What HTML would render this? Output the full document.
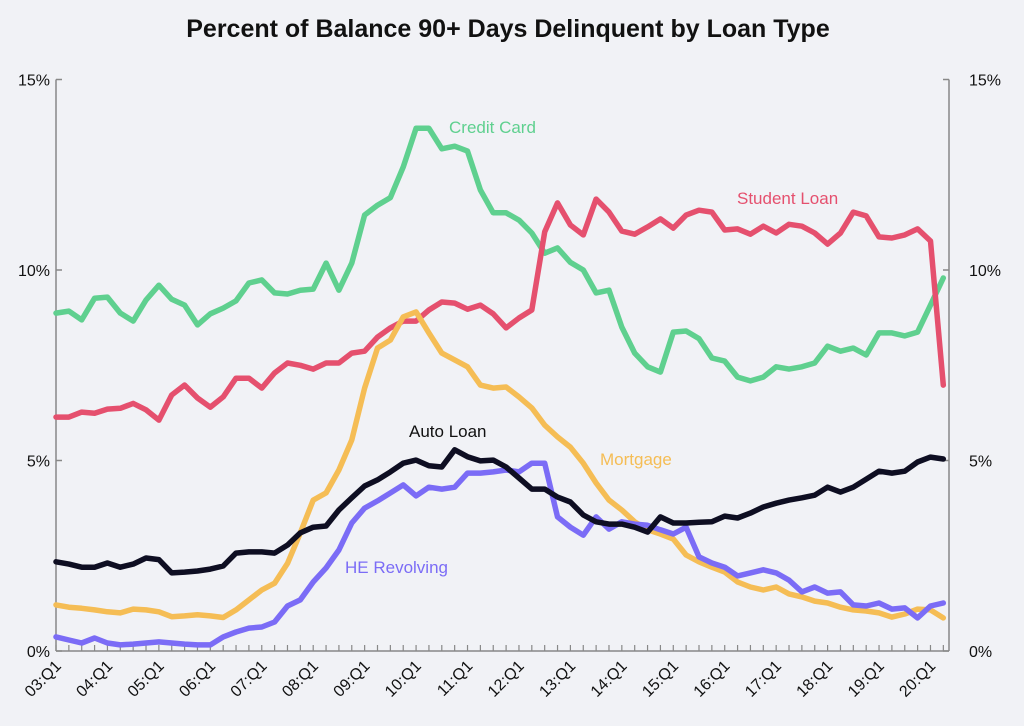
<!DOCTYPE html>
<html><head><meta charset="utf-8">
<style>
html,body{margin:0;padding:0;background:#f1f2f6;}
svg{display:block;font-family:"Liberation Sans",sans-serif;}
</style></head>
<body>
<svg id="chart" width="1024" height="726" viewBox="0 0 1024 726">
<rect x="0" y="0" width="1024" height="726" fill="#f1f2f6"/>
<text x="508" y="37" text-anchor="middle" font-size="25" font-weight="bold" fill="#111">Percent of Balance 90+ Days Delinquent by Loan Type</text>
<g id="axes"></g>
<g id="series"></g>
<g id="labels"></g>
</svg>
<script>
const yTicks = [0, 5, 10, 15];
const yTickLabels = ["0%", "5%", "10%", "15%"];
const xLabels = ["03:Q1","04:Q1","05:Q1","06:Q1","07:Q1","08:Q1","09:Q1","10:Q1","11:Q1","12:Q1","13:Q1","14:Q1","15:Q1","16:Q1","17:Q1","18:Q1","19:Q1","20:Q1"];
const creditCard = [8.87,8.92,8.69,9.26,9.29,8.87,8.66,9.21,9.6,9.23,9.08,8.56,8.85,9.0,9.19,9.66,9.74,9.4,9.37,9.47,9.5,10.18,9.47,10.18,11.44,11.7,11.9,12.7,13.72,13.72,13.18,13.25,13.12,12.1,11.5,11.5,11.31,10.97,10.44,10.58,10.2,10.0,9.4,9.47,8.5,7.82,7.46,7.32,8.37,8.4,8.2,7.69,7.61,7.19,7.09,7.19,7.46,7.4,7.46,7.56,8.0,7.87,7.95,7.77,8.35,8.35,8.27,8.37,9.08,9.79];
const studentLoan = [6.14,6.14,6.27,6.24,6.35,6.37,6.5,6.33,6.06,6.72,6.98,6.64,6.4,6.67,7.16,7.16,6.9,7.3,7.56,7.5,7.4,7.56,7.56,7.82,7.87,8.24,8.48,8.66,8.66,8.95,9.16,9.13,8.97,9.08,8.85,8.48,8.74,8.95,11.0,11.76,11.18,10.92,11.86,11.52,11.02,10.94,11.13,11.34,11.1,11.44,11.57,11.52,11.05,11.08,10.94,11.15,10.97,11.2,11.15,10.97,10.68,10.97,11.52,11.42,10.87,10.84,10.92,11.08,10.76,6.98];
const mortgage = [1.21,1.15,1.12,1.08,1.03,1.0,1.1,1.08,1.03,0.9,0.92,0.95,0.92,0.88,1.08,1.34,1.6,1.78,2.3,3.1,3.96,4.15,4.75,5.54,6.9,7.95,8.16,8.77,8.9,8.35,7.82,7.64,7.46,6.98,6.9,6.93,6.67,6.38,5.93,5.62,5.35,4.93,4.41,3.96,3.7,3.39,3.18,3.07,2.94,2.52,2.34,2.2,2.07,1.81,1.68,1.6,1.68,1.5,1.42,1.31,1.26,1.15,1.08,1.05,1.0,0.89,0.97,1.1,1.08,0.87];
const autoLoan = [2.34,2.28,2.2,2.2,2.31,2.2,2.28,2.44,2.4,2.05,2.07,2.1,2.15,2.23,2.57,2.6,2.6,2.57,2.78,3.1,3.25,3.28,3.7,4.02,4.33,4.49,4.7,4.93,5.01,4.86,4.83,5.28,5.1,4.99,5.01,4.83,4.54,4.25,4.25,4.04,3.91,3.57,3.39,3.33,3.33,3.25,3.12,3.52,3.36,3.36,3.38,3.39,3.54,3.49,3.62,3.78,3.88,3.96,4.02,4.09,4.3,4.17,4.3,4.51,4.72,4.67,4.72,4.96,5.09,5.04];
const heRevolving = [0.37,0.29,0.21,0.34,0.21,0.16,0.18,0.21,0.24,0.21,0.18,0.16,0.16,0.37,0.5,0.6,0.63,0.76,1.18,1.34,1.81,2.18,2.65,3.36,3.75,3.94,4.15,4.36,4.07,4.3,4.25,4.3,4.67,4.67,4.7,4.75,4.7,4.93,4.93,3.52,3.25,3.04,3.52,3.2,3.39,3.33,3.3,3.18,3.07,3.25,2.47,2.31,2.2,1.97,2.05,2.13,2.05,1.86,1.55,1.68,1.52,1.55,1.21,1.18,1.26,1.1,1.13,0.87,1.18,1.26];

const NS = "http://www.w3.org/2000/svg";
const X0 = 56, DX = 12.86, Y0 = 651, YPER = 38.1;
const xScale = i => X0 + i * DX;
const yScale = v => Y0 - v * YPER;
function mk(tag, attrs, parent){const e=document.createElementNS(NS,tag);for(const k in attrs)e.setAttribute(k,attrs[k]);parent.appendChild(e);return e;}
const axes=document.getElementById('axes');
const nPts = creditCard.length;
const xRight = 949;
let e;
e=mk('line',{x1:X0,y1:yScale(15),x2:X0,y2:Y0,stroke:'#888','stroke-width':1.5},axes);


e=mk('line',{x1:xRight,y1:yScale(15),x2:xRight,y2:Y0,stroke:'#888','stroke-width':1.5},axes);


e=mk('line',{x1:X0,y1:Y0,x2:xRight,y2:Y0,stroke:'#888','stroke-width':1.5},axes);


yTicks.forEach((t,k)=>{
  const y=yScale(t);
  e=mk('line',{x1:X0,y1:y,x2:X0+6,y2:y,stroke:'#888','stroke-width':1.5},axes);
  
  
  e=mk('line',{x1:xRight-6,y1:y,x2:xRight,y2:y,stroke:'#888','stroke-width':1.5},axes);
  
  
  e=mk('text',{x:X0-6,y:y+6,'text-anchor':'end','font-size':16,fill:'#111'},axes);
  e.textContent=yTickLabels[k];
  
  
  e=mk('text',{x:xRight+20,y:y+6,'text-anchor':'start','font-size':16,fill:'#111'},axes);
  e.textContent=yTickLabels[k];
  
  
});
for(let i=0;i<nPts;i++){
  const x=xScale(i);
  e=mk('line',{x1:x,y1:Y0-6,x2:x,y2:Y0,stroke:'#888','stroke-width':1.2},axes);
  
  
}
xLabels.forEach((lab,k)=>{
  const x=xScale(k*4)+6, y=667;
  e=mk('text',{x:x,y:y,'text-anchor':'end','font-size':16,fill:'#111',transform:`rotate(-45 ${x} ${y})`},axes);
  e.textContent=lab;
  
  
});
const ser=document.getElementById('series');
const seriesList=[
  [creditCard,'#5fd08f','credit-card-line'],
  [studentLoan,'#e5506e','student-loan-line'],
  [mortgage,'#f5bd55','mortgage-line'],
  [heRevolving,'#7b6cf6','he-revolving-line'],
  [autoLoan,'#0e0e22','auto-loan-line']
];
seriesList.forEach(([arr,col,name])=>{
  const d=arr.map((v,i)=>(i?'L':'M')+xScale(i).toFixed(1)+','+yScale(v).toFixed(1)).join('');
  e=mk('path',{d:d,fill:'none',stroke:col,'stroke-width':5.5,'stroke-linejoin':'round','stroke-linecap':'round'},ser);
  
  
});
const lab=document.getElementById('labels');
[['Credit Card',449,133,'#5fd08f','credit-card-label'],['Student Loan',737,204,'#e5506e','student-loan-label'],['Auto Loan',409,437,'#111','auto-loan-label'],['Mortgage',600,465,'#f5bd55','mortgage-label'],['HE Revolving',345,573,'#7b6cf6','he-revolving-label']].forEach(([t,x,y,c,n])=>{
  e=mk('text',{x:x,y:y,'font-size':17,fill:c},lab);
  e.textContent=t;
  
  
});
</script>
</body></html>
